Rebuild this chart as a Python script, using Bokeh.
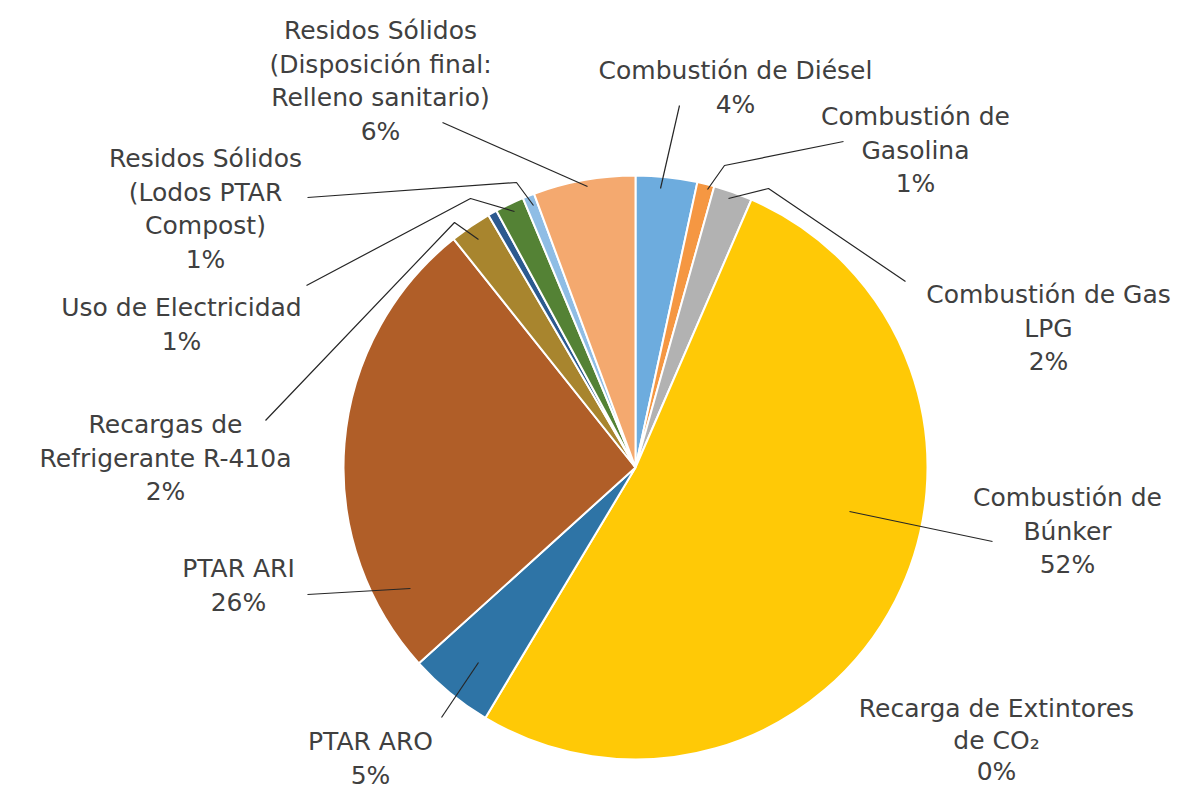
import math
from bokeh.plotting import figure
from bokeh.models import Range1d, ColumnDataSource
from bokeh.core.properties import value
from bokeh.embed import file_html
from bokeh.resources import INLINE

# ---- data ----
categories = [
    "Combustión de Diésel", "Combustión de Gasolina", "Combustión de Gas LPG",
    "Combustión de Búnker", "Recarga de Extintores de CO₂", "PTAR ARO", "PTAR ARI",
    "Recargas de Refrigerante R-410a", "Otros", "Uso de Electricidad",
    "Residos Sólidos (Lodos PTAR Compost)",
    "Residos Sólidos (Disposición final: Relleno sanitario)",
]
shares = [3.4, 0.95, 2.15, 52.1, 0.0, 4.7, 26.0, 2.3, 0.5, 1.6, 0.65, 5.65]
pct_labels = ["4%", "1%", "2%", "52%", "0%", "5%", "26%", "2%", "", "1%", "1%", "6%"]
label_lines = [
    ["Combustión de Diésel"],
    ["Combustión de", "Gasolina"],
    ["Combustión de Gas", "LPG"],
    ["Combustión de", "Búnker"],
    ["Recarga de Extintores", "de CO₂"],
    ["PTAR ARO"],
    ["PTAR ARI"],
    ["Recargas de", "Refrigerante R-410a"],
    [],
    ["Uso de Electricidad"],
    ["Residos Sólidos", "(Lodos PTAR", "Compost)"],
    ["Residos Sólidos", "(Disposición final:", "Relleno sanitario)"],
]
colors = ["#6DACDE", "#F59742", "#B2B2B2", "#FFC906", "#5B9BD5", "#2E74A6",
          "#B05E28", "#A8852E", "#2C5A8F", "#548235", "#8FBDE5", "#F4A96F"]

# ---- layout (reference pixel coordinates) ----
CX, CY, R = 635, 467, 292
label_pos = [  # (center x, y of first line)
    (735, 70), (915, 116), (1048, 294), (1067, 497), (996, 708), (370, 741),
    (238, 568), (165, 424), None, (181, 307), (205, 158), (380, 30),
]
leaders = [
    [(679, 105), (660, 188)],
    [(843, 141), (724, 165), (707, 189)],
    [(905, 281), (768, 188), (728, 198)],
    [(992, 541), (849, 511)],
    None,
    [(441, 717), (478, 662)],
    [(307, 594), (410, 588)],
    [(265, 420), (454, 222), (478, 239)],
    None,
    [(306, 285), (470, 198), (514, 211)],
    [(307, 197), (516, 182), (533, 205)],
    [(442, 122), (587, 186)],
]
LINE_H = 33.5

W, H = 1192, 792
p = figure(width=W, height=H, output_backend="svg", toolbar_location=None,
           x_range=Range1d(0, W), y_range=Range1d(-H, 0))
p.axis.visible = False
p.grid.visible = False
p.outline_line_color = None
p.min_border = 0
p.background_fill_color = "white"

total = sum(shares)
wx, wy, ws, we, wc = [], [], [], [], []
cum = 0.0
for s, c in zip(shares, colors):
    if s > 0:
        wx.append(CX)
        wy.append(-CY)
        ws.append(math.pi / 2 - 2 * math.pi * (cum + s) / total)
        we.append(math.pi / 2 - 2 * math.pi * cum / total)
        wc.append(c)
    cum += s

src = ColumnDataSource(dict(x=wx, y=wy, start=ws, end=we, color=wc))
p.wedge(x="x", y="y", radius=R, start_angle="start", end_angle="end",
        fill_color="color", line_color="white", line_width=2, source=src)

for seg in leaders:
    if seg is None:
        continue
    p.line([q[0] for q in seg], [-q[1] for q in seg], line_color="#262626", line_width=1.2)

tx, ty, tt = [], [], []
for lines, pct, pos in zip(label_lines, pct_labels, label_pos):
    if pos is None:
        continue
    allines = lines + [pct]
    lh = LINE_H if pct != "0%" else 31.5
    for i, t in enumerate(allines):
        tx.append(pos[0])
        ty.append(-(pos[1] + i * lh))
        tt.append(t)
p.text(x=tx, y=ty, text=tt, text_align="center", text_baseline="middle",
       text_font=value("DejaVu Sans"), text_font_size="25px", text_color="#404040")

open("out.html", "w").write(file_html(p, INLINE))
